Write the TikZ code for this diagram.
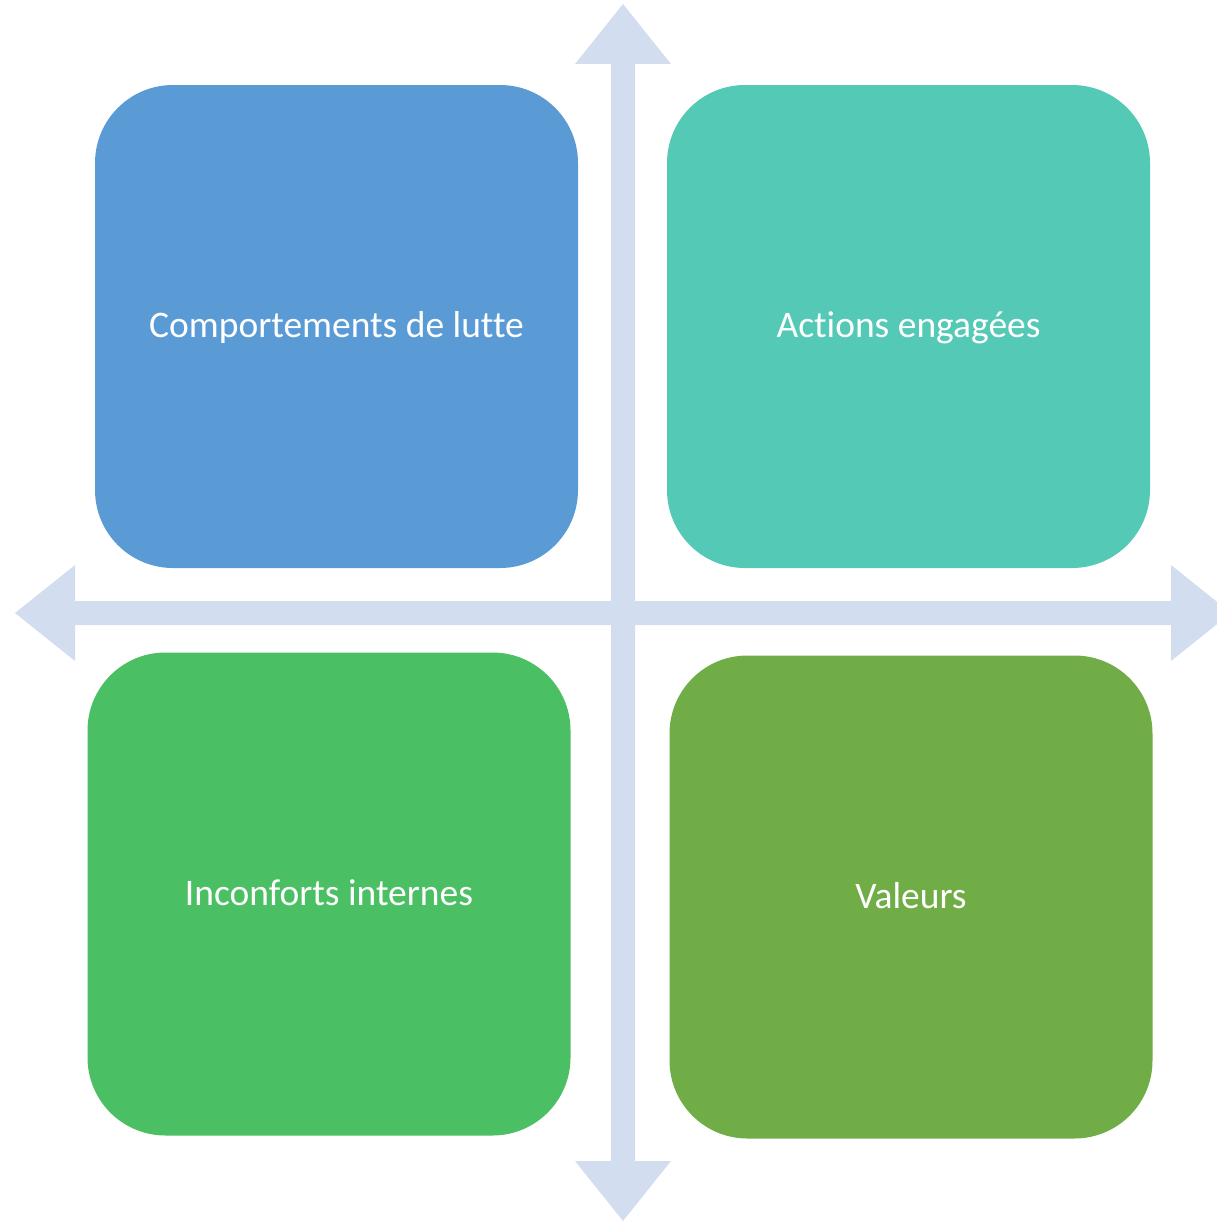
\documentclass[tikz,border=0pt]{standalone}
\usepackage{fontspec}
\setmainfont[Ligatures=NoCommon]{Carlito}
\definecolor{axiscol}{HTML}{D2DEEF}
\definecolor{boxA}{HTML}{5B9BD5}
\definecolor{boxB}{HTML}{54C9B6}
\definecolor{boxC}{HTML}{4BBF63}
\definecolor{boxD}{HTML}{70AD47}
\tikzset{
  quad/.style={rounded corners=78pt, draw=none, minimum width=483pt, minimum height=483pt,
    inner sep=0pt, text=white, text height=30pt, text depth=8pt,
    font=\fontsize{37.5}{44}\selectfont},
  axis/.style={fill=axiscol, draw=none}
}
\begin{document}
\begin{tikzpicture}[x=1pt,y=-1pt]
\useasboundingbox (0,0) rectangle (1217,1223);
% cross arrows
\fill[axis] (15,613) -- (75,565) -- (75,601) -- (611,601) -- (611,64) -- (575,64) -- (623,4)
  -- (671,64) -- (635,64) -- (635,601) -- (1171,601) -- (1171,565) -- (1231,613)
  -- (1171,661) -- (1171,625) -- (635,625) -- (635,1161) -- (671,1161) -- (623,1221)
  -- (575,1161) -- (611,1161) -- (611,625) -- (75,625) -- (75,661) -- cycle;
% quadrants
\node[quad, fill=boxA] (tl) at (336.5,326.5) {Comportements de lutte};
\node[quad, fill=boxB] (tr) at (908.5,326.5) {Actions engagées};
\node[quad, fill=boxC] (bl) at (329,894) {Inconforts internes};
\node[quad, fill=boxD] (br) at (911,897) {Valeurs};
\end{tikzpicture}
\end{document}
